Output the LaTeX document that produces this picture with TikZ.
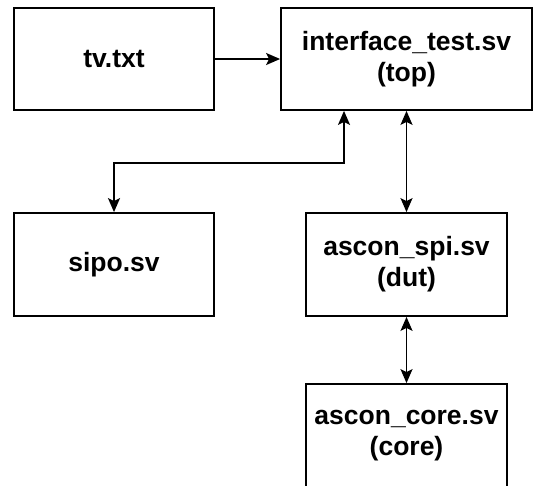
\documentclass[tikz,border=0pt]{standalone}
\usepackage{fontspec}
\setmainfont{Liberation Sans}
\usepackage{tikz}
\usetikzlibrary{arrows.meta, positioning, calc}
\tikzset{
  blk/.style={draw, line width=1.8pt, align=center, inner sep=0pt,
    font=\fontsize{26.5}{31}\selectfont\bfseries},
  arr/.style={line width=1.8pt, -{Stealth[length=14pt,width=12pt,inset=3pt]}},
  arrboth/.style={line width=1.8pt, {Stealth[length=14pt,width=12pt,inset=3pt]}-{Stealth[length=14pt,width=12pt,inset=3pt]}}
}

\begin{document}
\begin{tikzpicture}[x=1pt,y=1pt]
    % page frame
    \clip (0,0) rectangle (534,-485);
    \fill[white] (0,0) rectangle (534,-485);
    % upper row
    \node[blk, minimum width=200pt, minimum height=102pt] (tv) at (114,-59) {tv.txt};
    \node[blk, minimum width=251pt, minimum height=102pt] (top) at (406.5,-59) {interface\_test.sv\\(top)};
    % middle row
    \node[blk, minimum width=200pt, minimum height=103pt] (sipo) at (114,-264.5) {sipo.sv};
    \node[blk, minimum width=201pt, minimum height=103pt] (spi) at (406.5,-264.5) {ascon\_spi.sv\\(dut)};
    % lower row, runs off the page
    \node[blk, minimum width=201pt, minimum height=103pt] (core) at (406.5,-435.5) {ascon\_core.sv\\(core)};
    % test vectors into top
    \draw[arr] (tv.east) -- (top.west);
    % top <-> sipo
    \coordinate (tap) at (344,0);
    \draw[arrboth] (top.south -| tap) -- ++(0,-52) -| (sipo.north);
    % top <-> dut <-> core
    \draw[arrboth] (top.south) -- (spi.north);
    \draw[arrboth] (spi.south) -- (core.north);
\end{tikzpicture}
\end{document}
